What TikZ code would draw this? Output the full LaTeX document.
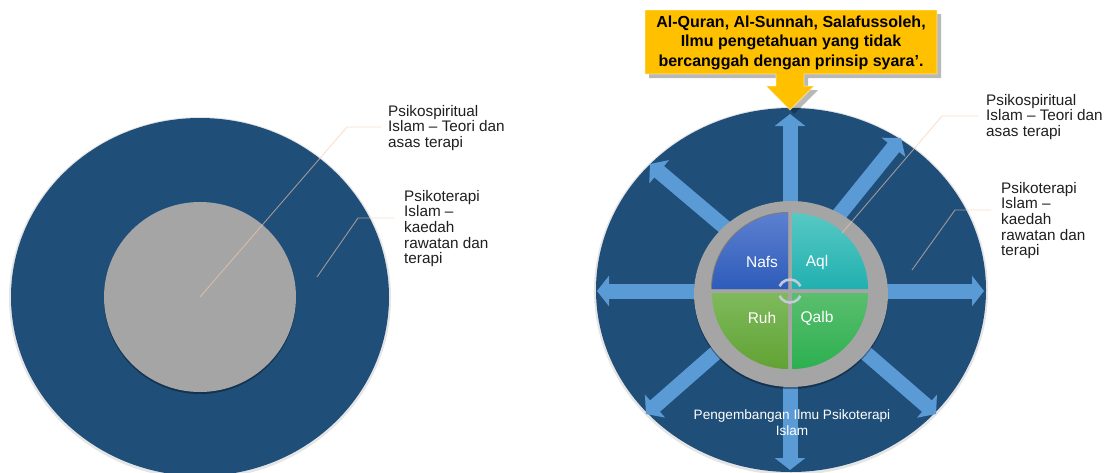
\documentclass[tikz,border=0pt]{standalone}
\usepackage{fontspec}
\setmainfont{Liberation Sans}
\usetikzlibrary{arrows.meta}

\definecolor{navy}{HTML}{1F4E79}
\definecolor{ringgray}{HTML}{A5A5A5}
\definecolor{rayblue}{HTML}{5B9BD5}
\definecolor{amber}{HTML}{FFC000}
\definecolor{leader}{HTML}{F8CBAD}
\definecolor{cyclegray}{HTML}{C6C9D8}

% outline of the source callout (box with a down-pointing arrow)
\def\calloutpath{(645,10) -- (937,10) -- (937,74) -- (804,74) -- (804,86) -- (814,86)
  -- (790,110) -- (766,86) -- (776,86) -- (776,74) -- (645,74) -- cycle}

\begin{document}
\begin{tikzpicture}[x=1pt,y=-1pt,
  ray/.style={line width=15pt, rayblue, -{Triangle[width=30pt,length=12pt]}},
  leadline/.style={leader, opacity=0.6, line width=0.9pt},
  note/.style={font=\fontsize{15.3}{15.6}\selectfont, align=left, inner sep=0pt,
    anchor=north west, text=black!88},
  quadlabel/.style={font=\fontsize{15.5}{18}\selectfont, text=white, inner sep=0pt},
  cyclearc/.style={cyclegray, line width=2.6pt},
]
\useasboundingbox (0,0) rectangle (1107,472);
\fill[white] (0,0) rectangle (1107,472);

% ---------- left: concentric discs ----------
\coordinate (lc) at (200,297);
\fill[black, opacity=0.10] (200,298) ellipse [x radius=191, y radius=181];
\fill[navy] (lc) ellipse [x radius=189, y radius=179];
\fill[black, opacity=0.35] (200,299) ellipse [x radius=96, y radius=95];
\fill[ringgray] (lc) ellipse [x radius=96, y radius=95];

\node[note] (lspirit) at (388,105) {Psikospiritual\\Islam -- Teori dan\\asas terapi};
\node[note] (lterapi) at (404,190) {Psikoterapi\\Islam --\\kaedah\\rawatan dan\\terapi};

\coordinate (lk1) at (347,127);
\coordinate (le1) at (381,127);
\draw[leadline] (lc) -- (lk1) -- (le1);
\coordinate (ls2) at (317,277);
\coordinate (lk2) at (358,218);
\coordinate (le2) at (394,218);
\draw[leadline] (ls2) -- (lk2) -- (le2);

% ---------- right: disc with radiating arrows ----------
\coordinate (rc) at (790,291);
\fill[black, opacity=0.10] (791,291) ellipse [x radius=197, y radius=184];
\fill[navy] (791,290) ellipse [x radius=195, y radius=182];

% radiating arrows
\coordinate (aN0) at (790,205);  \coordinate (aN) at (790,114);
\coordinate (aNE0) at (834,221); \coordinate (aNE) at (901,138);
\coordinate (aNW0) at (728,230); \coordinate (aNW) at (650,164);
\coordinate (aW0) at (700,291);  \coordinate (aW) at (597,291);
\coordinate (aE0) at (880,291);  \coordinate (aE) at (984,291);
\coordinate (aSW0) at (720,349); \coordinate (aSW) at (646,414);
\coordinate (aSE0) at (861,349); \coordinate (aSE) at (936,414);
\coordinate (aS0) at (790,380);  \coordinate (aS) at (790,470);
\draw[ray] (aN0) -- (aN);
\draw[ray] (aNE0) -- (aNE);
\draw[ray] (aNW0) -- (aNW);
\draw[ray] (aW0) -- (aW);
\draw[ray] (aE0) -- (aE);
\draw[ray] (aSW0) -- (aSW);
\draw[ray] (aSE0) -- (aSE);
\draw[ray] (aS0) -- (aS);

% grey ring
\fill[black, opacity=0.35] (791,296) ellipse [x radius=97, y radius=93];
\fill[ringgray] (791,294) ellipse [x radius=97, y radius=93];

% four quadrants
\fill[black, opacity=0.25] (788,289) -- (711,289) arc[start angle=180, end angle=270, radius=77] -- cycle;
\shade[top color={rgb,255:red,92;green,128;blue,208}, bottom color={rgb,255:red,46;green,92;blue,186}]
  (788,289) -- (712,289) arc[start angle=180, end angle=270, radius=76] -- cycle;
\shade[top color={rgb,255:red,88;green,200;blue,196}, bottom color={rgb,255:red,32;green,176;blue,176}]
  (792,289) -- (868,289) arc[start angle=0, end angle=-90, radius=76] -- cycle;
\shade[top color={rgb,255:red,126;green,186;blue,92}, bottom color={rgb,255:red,98;green,162;blue,52}]
  (788,293) -- (712,293) arc[start angle=180, end angle=90, radius=76] -- cycle;
\shade[top color={rgb,255:red,90;green,190;blue,110}, bottom color={rgb,255:red,44;green,176;blue,80}]
  (792,293) -- (868,293) arc[start angle=0, end angle=90, radius=76] -- cycle;

\node[quadlabel] (nafs) at (762,262) {Nafs};
\node[quadlabel] (aql)  at (817,262) {Aql};
\node[quadlabel] (ruh)  at (762,318) {Ruh};
\node[quadlabel] (qalb) at (817,318) {Qalb};

% cycle symbol at the centre
\draw[cyclearc] (rc) ++(205:11.5) arc[start angle=205, end angle=335, radius=11.5];
\draw[cyclearc] (rc) ++(25:11.5) arc[start angle=25, end angle=155, radius=11.5];

\node[font=\fontsize{13.6}{16.5}\selectfont, text=white, align=center, inner sep=0pt, anchor=north]
  (grow) at (792,409) {Pengembangan Ilmu Psikoterapi\\Islam};

% labels and leaders
\node[note] (rspirit) at (986,94) {Psikospiritual\\Islam -- Teori dan\\asas terapi};
\node[note] (rterapi) at (1001,182) {Psikoterapi\\Islam --\\kaedah\\rawatan dan\\terapi};

\coordinate (rs1) at (842,233);
\coordinate (rk1) at (942,116);
\coordinate (re1) at (978,116);
\draw[leadline] (rs1) -- (rk1) -- (re1);
\coordinate (rs2) at (912,270);
\coordinate (rk2) at (955,210);
\coordinate (re2) at (991,210);
\draw[leadline] (rs2) -- (rk2) -- (re2);

% source callout
\fill[black, opacity=0.28, shift={(4,4)}] \calloutpath;
\fill[amber] \calloutpath;
\draw[white, opacity=0.5, line width=0.8pt] \calloutpath;
\node[font=\bfseries\fontsize{16}{19.5}\selectfont, align=center, inner sep=0pt] (src) at (791,42.5)
  {Al-Quran, Al-Sunnah, Salafussoleh,\\Ilmu pengetahuan yang tidak\\bercanggah dengan prinsip syara'.};
\end{tikzpicture}
\end{document}
